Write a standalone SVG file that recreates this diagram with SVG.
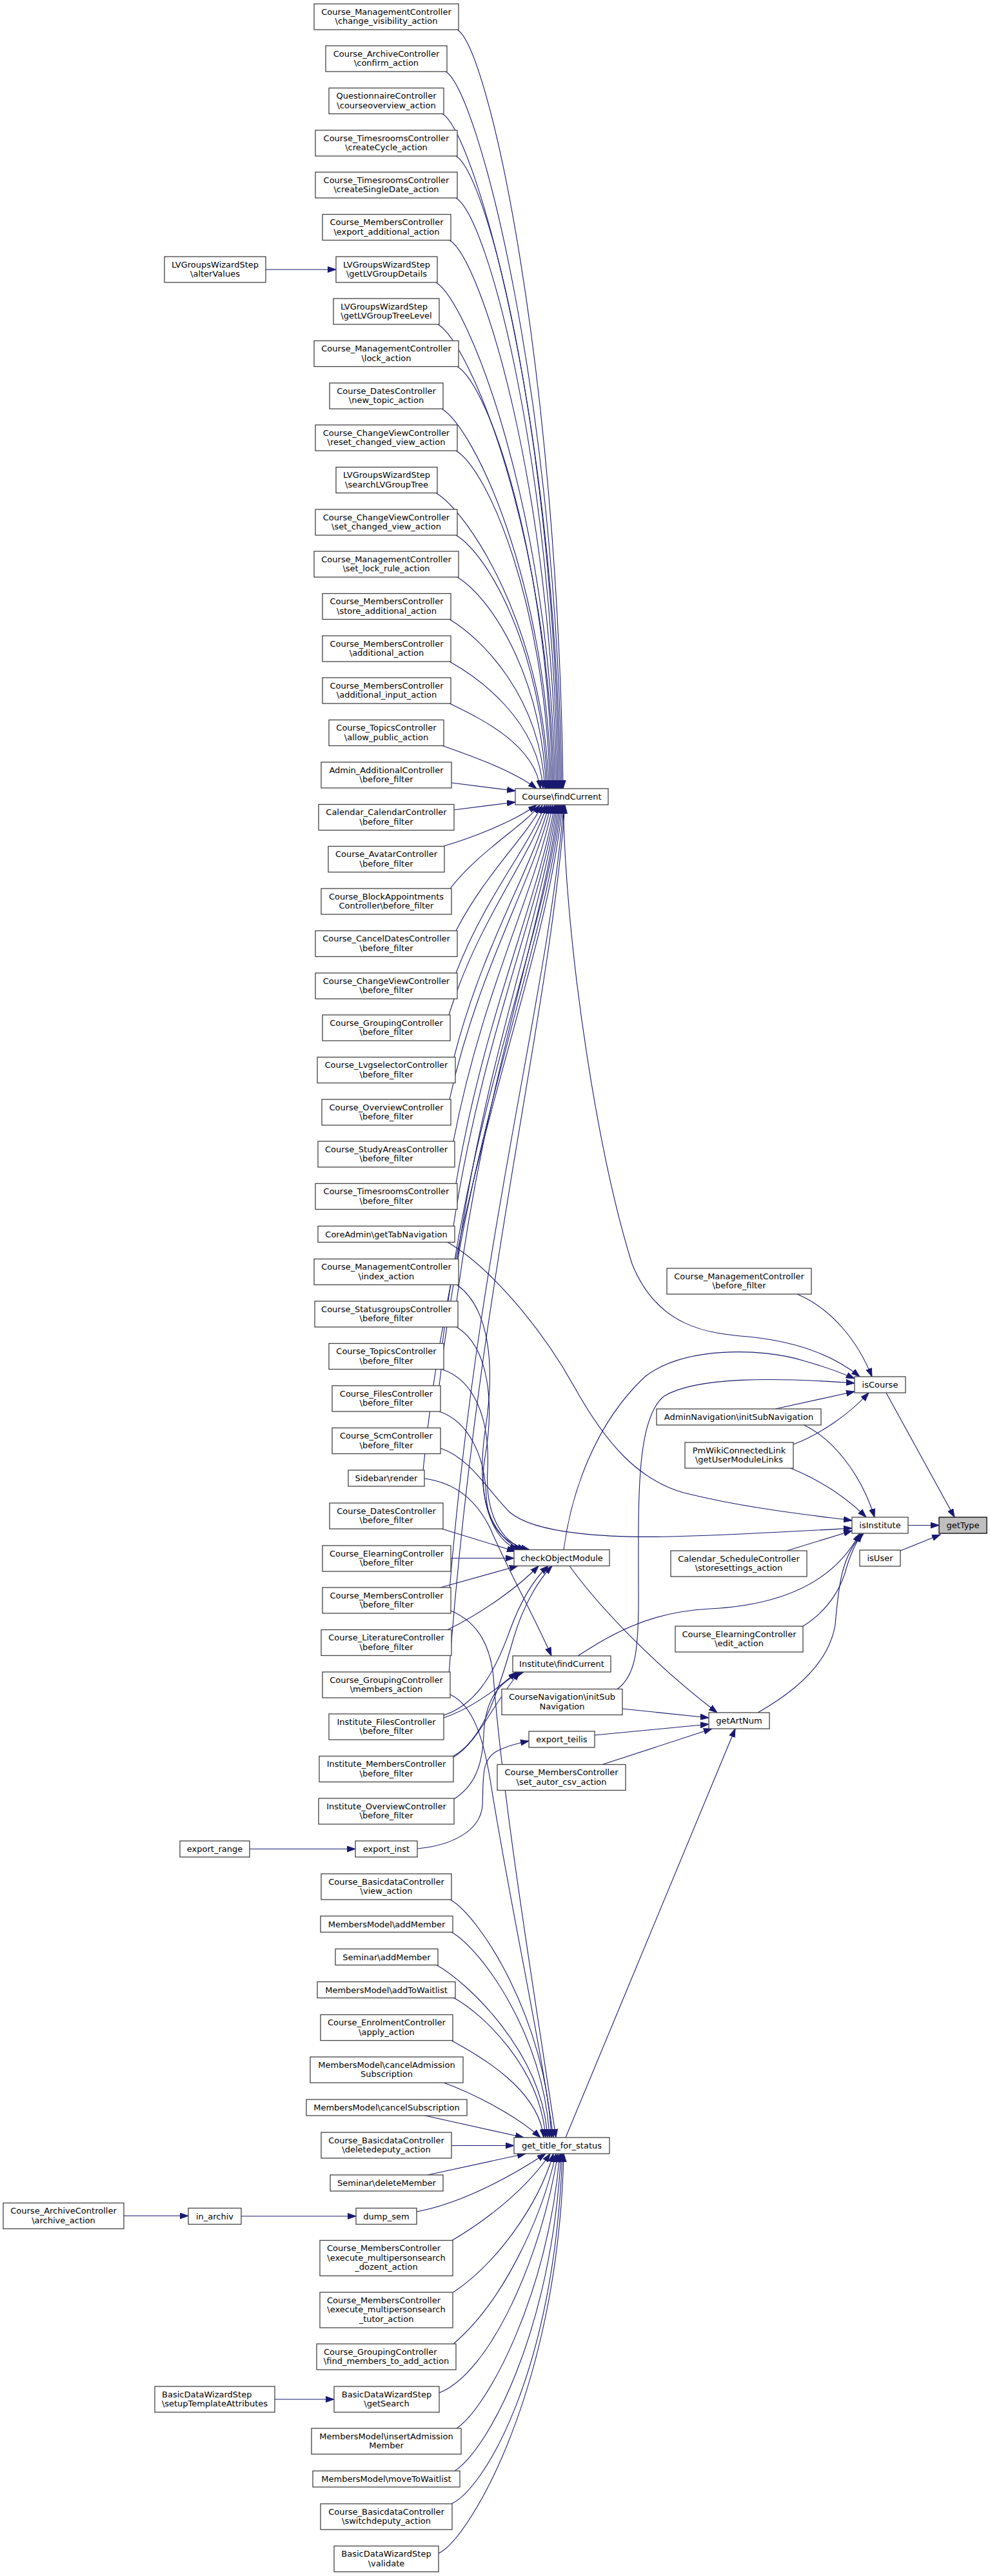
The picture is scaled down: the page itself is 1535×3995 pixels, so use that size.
<svg xmlns="http://www.w3.org/2000/svg" width="1535" height="3995" viewBox="0 0 1535 3995">
<defs>
<style>
.node rect{fill:#ffffff;stroke:#444444;stroke-width:1.3}
.node text{font-family:"DejaVu Sans","Liberation Sans",sans-serif;font-size:13px;fill:#000000;text-anchor:middle}
.node text.l{text-anchor:start}
.root rect{fill:#bfbfbf;stroke:#000000}
.edge{fill:none;stroke:#191970;stroke-width:1.1;marker-end:url(#arrow)}
</style>
<marker id="arrow" markerUnits="userSpaceOnUse" markerWidth="14" markerHeight="10" refX="13" refY="5" orient="auto">
<path d="M0,0.5 L13,5 L0,9.5 Z" fill="#191970" stroke="#191970" stroke-width="1"/>
</marker>
</defs>
<rect x="0" y="0" width="1535" height="3995" fill="#ffffff"/>
<g id="connectors">
<path class="edge" d="M709,46 C759,76 865,576 873,1223"/>
<path class="edge" d="M691,111 C741,141 863,611 871,1223"/>
<path class="edge" d="M686,176.5 C736,206.5 861,647 869,1223"/>
<path class="edge" d="M707,242 C757,272 859,683 867,1223"/>
<path class="edge" d="M707,307 C757,337 857,719 865,1223"/>
<path class="edge" d="M697,372.5 C747,402.5 855,755 863,1223"/>
<path class="edge" d="M676,438 C726,468 853,791 861,1223"/>
<path class="edge" d="M679,503 C729,533 851,827 859,1223"/>
<path class="edge" d="M709,568.5 C759,598.5 849,863 857,1223"/>
<path class="edge" d="M685,634 C735,664 847,899 855,1223"/>
<path class="edge" d="M707,699 C757,729 845,935 853,1223"/>
<path class="edge" d="M676,764.5 C726,794.5 843,971 851,1223"/>
<path class="edge" d="M707,830 C757,860 841,1007 849,1223"/>
<path class="edge" d="M709,895 C759,925 839,1043 847,1223"/>
<path class="edge" d="M697,960.5 C747,990.5 837,1079 845,1223"/>
<path class="edge" d="M697,1026 C740,1050 834,1115 842,1223"/>
<path class="edge" d="M697,1091 C735,1110 828,1150 838,1223"/>
<path class="edge" d="M686,1156.5 C730,1172 795,1195 832,1223"/>
<path class="edge" d="M700,1214 L799,1226.5"/>
<path class="edge" d="M704,1256 L799,1244"/>
<path class="edge" d="M412,418 L521,418"/>
<path class="edge" d="M687,1312.5 C730,1300 795,1275 832,1248.5"/>
<path class="edge" d="M698,1378 C743,1319.7 812,1280.9 837,1248.5"/>
<path class="edge" d="M707,1443.5 C752,1355.8 816,1297.3 841,1248.5"/>
<path class="edge" d="M707,1509 C752,1391.8 820,1313.6 845,1248.5"/>
<path class="edge" d="M696,1574 C741,1427.5 823,1329.9 848,1248.5"/>
<path class="edge" d="M704,1639.5 C749,1463.6 826,1346.3 851,1248.5"/>
<path class="edge" d="M697,1705 C742,1499.6 829,1362.6 854,1248.5"/>
<path class="edge" d="M703,1770 C748,1535.3 832,1378.9 857,1248.5"/>
<path class="edge" d="M707,1835.5 C752,1571.4 835,1395.3 860,1248.5"/>
<path class="edge" d="M703,1901.5 C748,1607.7 837,1411.8 862,1248.5"/>
<path class="edge" d="M709,1952.5 C754,1635.7 839,1424.5 864,1248.5"/>
<path class="edge" d="M708,2018 C753,1671.7 841,1440.9 866,1248.5"/>
<path class="edge" d="M686,2083.5 C731,1707.8 843,1457.3 868,1248.5"/>
<path class="edge" d="M681,2149 C726,1743.8 845,1473.6 870,1248.5"/>
<path class="edge" d="M656,2280 C701,1815.8 847,1506.4 872,1248.5"/>
<path class="edge" d="M697,2466 C742,1918.1 849,1552.9 874,1248.5"/>
<path class="edge" d="M696,2597 C741,1990.2 851,1585.6 876,1248.5"/>
<path class="edge" d="M873,1248.5 C880,1500 930,1800 980,1960 C1020,2060 1100,2068 1160,2073 C1230,2080 1290,2100 1333,2135"/>
<path class="edge" d="M1236,2007 C1290,2030 1330,2080 1352,2135"/>
<path class="edge" d="M874,2403.5 C885,2320 920,2210 1000,2135 C1060,2088 1180,2090 1245,2110 C1280,2120 1300,2127 1325,2138"/>
<path class="edge" d="M957,2619.5 C985,2600 990,2560 990,2480 C990,2330 985,2200 1030,2165 C1080,2135 1200,2136 1325,2145"/>
<path class="edge" d="M1202,2185 L1325,2158"/>
<path class="edge" d="M1230,2240 C1270,2225 1315,2195 1347,2160"/>
<path class="edge" d="M1246,2210 C1290,2230 1335,2285 1356,2353"/>
<path class="edge" d="M1226,2277 C1270,2295 1310,2320 1343,2353"/>
<path class="edge" d="M694,1926.5 C760,1965 840,2060 890,2150 C940,2240 990,2295 1060,2315 C1160,2340 1260,2350 1321,2358"/>
<path class="edge" d="M683,2246 C730,2262 755,2310 790,2345 C830,2380 950,2385 1040,2383 C1150,2380 1250,2374 1321,2370"/>
<path class="edge" d="M1220,2405 L1321,2374"/>
<path class="edge" d="M896,2568 C940,2540 1000,2500 1100,2495 C1200,2490 1290,2460 1333,2378"/>
<path class="edge" d="M1245,2522 C1280,2500 1300,2470 1310,2440 C1318,2410 1328,2392 1336,2378"/>
<path class="edge" d="M1175,2656 C1230,2625 1285,2580 1295,2520 C1300,2460 1305,2410 1339,2378"/>
<path class="edge" d="M1374,2160 L1480,2353"/>
<path class="edge" d="M1408,2365.5 L1456,2365.5"/>
<path class="edge" d="M1396,2405 L1458,2380"/>
<path class="edge" d="M709,1993 C760,2030 768,2120 752,2220 C738,2320 760,2385 803,2403.5"/>
<path class="edge" d="M708,2058 C760,2090 766,2180 752,2260 C740,2330 768,2388 809,2403.5"/>
<path class="edge" d="M686,2124 C735,2140 760,2200 756,2280 C752,2345 775,2390 815,2403.5"/>
<path class="edge" d="M681,2189 C728,2205 752,2260 754,2320 C756,2370 785,2395 821,2403.5"/>
<path class="edge" d="M685,2371 L799,2406"/>
<path class="edge" d="M699,2416.5 L797,2416.5"/>
<path class="edge" d="M683,2462 L803,2428.5"/>
<path class="edge" d="M694,2527.5 C750,2500 805,2460 835,2428.5"/>
<path class="edge" d="M688,2660 C735,2645 765,2600 790,2530 C810,2475 832,2445 850,2428.5"/>
<path class="edge" d="M703,2723.5 C745,2700 768,2640 795,2545 C812,2485 838,2447 856,2428.5"/>
<path class="edge" d="M658,2293 C710,2300 740,2330 760,2370 C790,2440 830,2510 855,2568"/>
<path class="edge" d="M688,2664 C730,2650 770,2620 801,2593"/>
<path class="edge" d="M703,2725 C740,2705 765,2640 806,2593"/>
<path class="edge" d="M704,2790 C735,2770 748,2740 750,2690 C752,2640 770,2608 812,2593"/>
<path class="edge" d="M883,2428.5 C920,2480 1000,2570 1112,2656"/>
<path class="edge" d="M965,2650 L1099,2664"/>
<path class="edge" d="M922,2691 L1099,2674"/>
<path class="edge" d="M934,2736.5 L1104,2681"/>
<path class="edge" d="M877,3315 L1140,2681"/>
<path class="edge" d="M387,2867.5 L551,2867.5"/>
<path class="edge" d="M647,2867 C700,2862 745,2840 748,2800 C750,2760 745,2730 770,2716 C785,2708 800,2704 820,2700"/>
<path class="edge" d="M699,2498 C740,2515 760,2550 765,2600 C780,2800 830,3100 862,3315"/>
<path class="edge" d="M698,2628 C735,2645 750,2700 760,2760 C790,2950 835,3150 858,3315"/>
<path class="edge" d="M698,2946 C743,2971 847,3130.5 855,3315"/>
<path class="edge" d="M700,2996.5 C745,3021.5 844,3156 852,3315"/>
<path class="edge" d="M677,3047.5 C722,3072.5 841,3181 849,3315"/>
<path class="edge" d="M704,3098.5 C749,3123.5 838,3207 846,3315"/>
<path class="edge" d="M700,3164.5 C745,3189.5 835,3240 843,3315"/>
<path class="edge" d="M688,3230 C730,3245 800,3280 838,3315"/>
<path class="edge" d="M659,3281 L812,3315"/>
<path class="edge" d="M700,3327.5 L797,3327.5"/>
<path class="edge" d="M663,3373 L815,3340"/>
<path class="edge" d="M646,3430 C700,3420 770,3390 846,3340"/>
<path class="edge" d="M701,3474.5 C760,3440 820,3390 853,3340"/>
<path class="edge" d="M703,3555 C770,3510 835,3420 858,3340"/>
<path class="edge" d="M703,3635 C780,3570 840,3440 862,3340"/>
<path class="edge" d="M681,3711 C760,3680 840,3500 865,3340"/>
<path class="edge" d="M708,3766 C755,3735 850,3560 868,3340"/>
<path class="edge" d="M705,3832 C755,3800 855,3620 870,3340"/>
<path class="edge" d="M700,3883 C750,3860 860,3680 872,3340"/>
<path class="edge" d="M680,3960 C730,3935 866,3700 874,3340"/>
<path class="edge" d="M374,3437 L552,3437"/>
<path class="edge" d="M192,3436.5 L292,3436.5"/>
<path class="edge" d="M426,3721 L518,3721"/>
</g>
<g id="n1" class="node"><rect x="487" y="6" width="224" height="40"/><text x="599" y="22.5">Course_ManagementController</text><text x="599" y="37">\change_visibility_action</text></g>
<g id="n2" class="node"><rect x="505" y="71" width="188" height="40"/><text x="599" y="87.5">Course_ArchiveController</text><text x="599" y="102">\confirm_action</text></g>
<g id="n3" class="node"><rect x="510" y="136.5" width="178" height="40"/><text x="599" y="153">QuestionnaireController</text><text x="599" y="167.5">\courseoverview_action</text></g>
<g id="n4" class="node"><rect x="489" y="202" width="220" height="40"/><text x="599" y="218.5">Course_TimesroomsController</text><text x="599" y="233">\createCycle_action</text></g>
<g id="n5" class="node"><rect x="489" y="267" width="220" height="40"/><text x="599" y="283.5">Course_TimesroomsController</text><text x="599" y="298">\createSingleDate_action</text></g>
<g id="n6" class="node"><rect x="500" y="332.5" width="199" height="40"/><text x="599.5" y="349">Course_MembersController</text><text x="599.5" y="363.5">\export_additional_action</text></g>
<g id="n7" class="node"><rect x="521" y="398" width="157" height="40"/><text x="599.5" y="414.5">LVGroupsWizardStep</text><text x="599.5" y="429">\getLVGroupDetails</text></g>
<g id="n7a" class="node"><rect x="255" y="398" width="157" height="40"/><text x="333.5" y="414.5">LVGroupsWizardStep</text><text x="333.5" y="429">\alterValues</text></g>
<g id="n8" class="node"><rect x="517" y="463" width="164" height="40"/><text class="l" x="528" y="479.5">LVGroupsWizardStep</text><text x="599" y="494">\getLVGroupTreeLevel</text></g>
<g id="n9" class="node"><rect x="487" y="528.5" width="224" height="40"/><text x="599" y="545">Course_ManagementController</text><text x="599" y="559.5">\lock_action</text></g>
<g id="n10" class="node"><rect x="511" y="594" width="176" height="40"/><text x="599" y="610.5">Course_DatesController</text><text x="599" y="625">\new_topic_action</text></g>
<g id="n11" class="node"><rect x="489" y="659" width="220" height="40"/><text x="599" y="675.5">Course_ChangeViewController</text><text x="599" y="690">\reset_changed_view_action</text></g>
<g id="n12" class="node"><rect x="521" y="724.5" width="157" height="40"/><text x="599.5" y="741">LVGroupsWizardStep</text><text x="599.5" y="755.5">\searchLVGroupTree</text></g>
<g id="n13" class="node"><rect x="489" y="790" width="220" height="40"/><text x="599" y="806.5">Course_ChangeViewController</text><text x="599" y="821">\set_changed_view_action</text></g>
<g id="n14" class="node"><rect x="487" y="855" width="224" height="40"/><text x="599" y="871.5">Course_ManagementController</text><text x="599" y="886">\set_lock_rule_action</text></g>
<g id="n15" class="node"><rect x="500" y="920.5" width="199" height="40"/><text x="599.5" y="937">Course_MembersController</text><text x="599.5" y="951.5">\store_additional_action</text></g>
<g id="n16" class="node"><rect x="500" y="986" width="199" height="40"/><text x="599.5" y="1002.5">Course_MembersController</text><text x="599.5" y="1017">\additional_action</text></g>
<g id="n17" class="node"><rect x="500" y="1051" width="199" height="40"/><text x="599.5" y="1067.5">Course_MembersController</text><text x="599.5" y="1082">\additional_input_action</text></g>
<g id="n18" class="node"><rect x="510" y="1116.5" width="178" height="40"/><text x="599" y="1133">Course_TopicsController</text><text x="599" y="1147.5">\allow_public_action</text></g>
<g id="n19" class="node"><rect x="498" y="1182" width="202" height="40"/><text x="599" y="1198.5">Admin_AdditionalController</text><text x="599" y="1213">\before_filter</text></g>
<g id="n20" class="node"><rect x="494" y="1247.5" width="210" height="40"/><text x="599" y="1264">Calendar_CalendarController</text><text x="599" y="1278.5">\before_filter</text></g>
<g id="n21" class="node"><rect x="509" y="1312.5" width="180" height="40"/><text x="599" y="1329">Course_AvatarController</text><text x="599" y="1343.5">\before_filter</text></g>
<g id="n22" class="node"><rect x="498" y="1378" width="202" height="40"/><text x="599" y="1394.5">Course_BlockAppointments</text><text x="599" y="1409">Controller\before_filter</text></g>
<g id="n23" class="node"><rect x="489" y="1443.5" width="220" height="40"/><text x="599" y="1460">Course_CancelDatesController</text><text x="599" y="1474.5">\before_filter</text></g>
<g id="n24" class="node"><rect x="489" y="1509" width="220" height="40"/><text x="599" y="1525.5">Course_ChangeViewController</text><text x="599" y="1540">\before_filter</text></g>
<g id="n25" class="node"><rect x="500" y="1574" width="198" height="40"/><text x="599" y="1590.5">Course_GroupingController</text><text x="599" y="1605">\before_filter</text></g>
<g id="n26" class="node"><rect x="492" y="1639.5" width="214" height="40"/><text x="599" y="1656">Course_LvgselectorController</text><text x="599" y="1670.5">\before_filter</text></g>
<g id="n27" class="node"><rect x="499" y="1705" width="200" height="40"/><text x="599" y="1721.5">Course_OverviewController</text><text x="599" y="1736">\before_filter</text></g>
<g id="n28" class="node"><rect x="493" y="1770" width="212" height="40"/><text x="599" y="1786.5">Course_StudyAreasController</text><text x="599" y="1801">\before_filter</text></g>
<g id="n29" class="node"><rect x="489" y="1835.5" width="220" height="40"/><text x="599" y="1852">Course_TimesroomsController</text><text x="599" y="1866.5">\before_filter</text></g>
<g id="n30" class="node"><rect x="493" y="1901.5" width="212" height="25"/><text x="599" y="1918.5">CoreAdmin\getTabNavigation</text></g>
<g id="n31" class="node"><rect x="487" y="1952.5" width="224" height="40"/><text x="599" y="1969">Course_ManagementController</text><text x="599" y="1983.5">\index_action</text></g>
<g id="n32" class="node"><rect x="488" y="2018" width="222" height="40"/><text x="599" y="2034.5">Course_StatusgroupsController</text><text x="599" y="2049">\before_filter</text></g>
<g id="n33" class="node"><rect x="510" y="2083.5" width="178" height="40"/><text x="599" y="2100">Course_TopicsController</text><text x="599" y="2114.5">\before_filter</text></g>
<g id="n34" class="node"><rect x="515" y="2149" width="168" height="40"/><text x="599" y="2165.5">Course_FilesController</text><text x="599" y="2180">\before_filter</text></g>
<g id="n35" class="node"><rect x="515" y="2214.5" width="168" height="40"/><text x="599" y="2231">Course_ScmController</text><text x="599" y="2245.5">\before_filter</text></g>
<g id="n36" class="node"><rect x="540" y="2280" width="118" height="25"/><text x="599" y="2297">Sidebar\render</text></g>
<g id="n37" class="node"><rect x="511" y="2331" width="176" height="40"/><text x="599" y="2347.5">Course_DatesController</text><text x="599" y="2362">\before_filter</text></g>
<g id="n38" class="node"><rect x="500" y="2397" width="199" height="40"/><text x="599.5" y="2413.5">Course_ElearningController</text><text x="599.5" y="2428">\before_filter</text></g>
<g id="n39" class="node"><rect x="500" y="2462" width="199" height="40"/><text x="599.5" y="2478.5">Course_MembersController</text><text x="599.5" y="2493">\before_filter</text></g>
<g id="n40" class="node"><rect x="498" y="2527.5" width="202" height="40"/><text x="599" y="2544">Course_LiteratureController</text><text x="599" y="2558.5">\before_filter</text></g>
<g id="n41" class="node"><rect x="500" y="2593" width="198" height="40"/><text x="599" y="2609.5">Course_GroupingController</text><text x="599" y="2624">\members_action</text></g>
<g id="n42" class="node"><rect x="510" y="2658" width="178" height="40"/><text x="599" y="2674.5">Institute_FilesController</text><text x="599" y="2689">\before_filter</text></g>
<g id="n43" class="node"><rect x="495" y="2723.5" width="208" height="40"/><text x="599" y="2740">Institute_MembersController</text><text x="599" y="2754.5">\before_filter</text></g>
<g id="n44" class="node"><rect x="494" y="2789" width="210" height="40"/><text x="599" y="2805.5">Institute_OverviewController</text><text x="599" y="2820">\before_filter</text></g>
<g id="n45" class="node"><rect x="551" y="2855" width="96" height="25"/><text x="599" y="2872">export_inst</text></g>
<g id="n45a" class="node"><rect x="279" y="2855" width="108" height="25"/><text x="333" y="2872">export_range</text></g>
<g id="n46" class="node"><rect x="498" y="2906" width="202" height="40"/><text x="599" y="2922.5">Course_BasicdataController</text><text x="599" y="2937">\view_action</text></g>
<g id="n47" class="node"><rect x="497" y="2971.5" width="205" height="25"/><text x="599.5" y="2988.5">MembersModel\addMember</text></g>
<g id="n48" class="node"><rect x="520" y="3022.5" width="159" height="25"/><text x="599.5" y="3039.5">Seminar\addMember</text></g>
<g id="n49" class="node"><rect x="492" y="3073.5" width="214" height="25"/><text x="599" y="3090.5">MembersModel\addToWaitlist</text></g>
<g id="n50" class="node"><rect x="497" y="3124.5" width="205" height="40"/><text x="599.5" y="3141">Course_EnrolmentController</text><text x="599.5" y="3155.5">\apply_action</text></g>
<g id="n51" class="node"><rect x="481" y="3190" width="237" height="40"/><text x="599.5" y="3206.5">MembersModel\cancelAdmission</text><text x="599.5" y="3221">Subscription</text></g>
<g id="n52" class="node"><rect x="475" y="3256" width="249" height="25"/><text x="599.5" y="3273">MembersModel\cancelSubscription</text></g>
<g id="n53" class="node"><rect x="498" y="3307" width="202" height="40"/><text x="599" y="3323.5">Course_BasicdataController</text><text x="599" y="3338">\deletedeputy_action</text></g>
<g id="n54" class="node"><rect x="512" y="3373" width="175" height="25"/><text x="599.5" y="3390">Seminar\deleteMember</text></g>
<g id="n55" class="node"><rect x="552" y="3424.5" width="94" height="25"/><text x="599" y="3441.5">dump_sem</text></g>
<g id="n55a" class="node"><rect x="292" y="3424.5" width="82" height="25"/><text x="333" y="3441.5">in_archiv</text></g>
<g id="n55b" class="node"><rect x="5" y="3416.5" width="187" height="40"/><text x="98.5" y="3433">Course_ArchiveController</text><text x="98.5" y="3447.5">\archive_action</text></g>
<g id="n56" class="node"><rect x="496" y="3474.5" width="206" height="55"/><text class="l" x="507" y="3491">Course_MembersController</text><text x="599" y="3505.5">\execute_multipersonsearch</text><text x="599" y="3520">_dozent_action</text></g>
<g id="n57" class="node"><rect x="496" y="3555" width="206" height="55"/><text class="l" x="507" y="3571.5">Course_MembersController</text><text x="599" y="3586">\execute_multipersonsearch</text><text x="599" y="3600.5">_tutor_action</text></g>
<g id="n58" class="node"><rect x="491" y="3635" width="216" height="40"/><text class="l" x="502" y="3651.5">Course_GroupingController</text><text x="599" y="3666">\find_members_to_add_action</text></g>
<g id="n59" class="node"><rect x="518" y="3701" width="163" height="40"/><text x="599.5" y="3717.5">BasicDataWizardStep</text><text x="599.5" y="3732">\getSearch</text></g>
<g id="n59a" class="node"><rect x="240" y="3701" width="186" height="40"/><text class="l" x="251" y="3717.5">BasicDataWizardStep</text><text x="333" y="3732">\setupTemplateAttributes</text></g>
<g id="n60" class="node"><rect x="483" y="3766" width="232" height="40"/><text x="599" y="3782.5">MembersModel\insertAdmission</text><text x="599" y="3797">Member</text></g>
<g id="n61" class="node"><rect x="485" y="3832" width="228" height="25"/><text x="599" y="3849">MembersModel\moveToWaitlist</text></g>
<g id="n62" class="node"><rect x="497" y="3883" width="204" height="40"/><text x="599" y="3899.5">Course_BasicdataController</text><text x="599" y="3914">\switchdeputy_action</text></g>
<g id="n63" class="node"><rect x="518" y="3948.5" width="162" height="40"/><text x="599" y="3965">BasicDataWizardStep</text><text x="599" y="3979.5">\validate</text></g>
<g id="courseFindCurrent" class="node"><rect x="799" y="1223" width="144" height="25"/><text x="871" y="1240">Course\findCurrent</text></g>
<g id="checkObjectModule" class="node"><rect x="797" y="2403.5" width="148" height="25"/><text x="871" y="2420.5">checkObjectModule</text></g>
<g id="instituteFindCurrent" class="node"><rect x="795" y="2568" width="152" height="25"/><text x="871" y="2585">Institute\findCurrent</text></g>
<g id="courseNavigation" class="node"><rect x="778" y="2619.5" width="187" height="40"/><text x="871.5" y="2636">CourseNavigation\initSub</text><text x="871.5" y="2650.5">Navigation</text></g>
<g id="exportTeilis" class="node"><rect x="820" y="2685" width="102" height="25"/><text x="871" y="2702">export_teilis</text></g>
<g id="setAutorCsv" class="node"><rect x="771" y="2736.5" width="199" height="40"/><text x="870.5" y="2753">Course_MembersController</text><text x="870.5" y="2767.5">\set_autor_csv_action</text></g>
<g id="getTitleForStatus" class="node"><rect x="797" y="3315" width="148" height="25"/><text x="871" y="3332">get_title_for_status</text></g>
<g id="mgmtBeforeFilter" class="node"><rect x="1034" y="1967" width="224" height="40"/><text x="1146" y="1983.5">Course_ManagementController</text><text x="1146" y="1998">\before_filter</text></g>
<g id="adminNavigation" class="node"><rect x="1018" y="2185" width="255" height="25"/><text x="1145.5" y="2202">AdminNavigation\initSubNavigation</text></g>
<g id="pmWiki" class="node"><rect x="1062" y="2237" width="168" height="40"/><text x="1146" y="2253.5">PmWikiConnectedLink</text><text x="1146" y="2268">\getUserModuleLinks</text></g>
<g id="calendarSchedule" class="node"><rect x="1040" y="2405" width="211" height="40"/><text x="1145.5" y="2421.5">Calendar_ScheduleController</text><text x="1145.5" y="2436">\storesettings_action</text></g>
<g id="elearningEdit" class="node"><rect x="1047" y="2522" width="198" height="40"/><text x="1146" y="2538.5">Course_ElearningController</text><text x="1146" y="2553">\edit_action</text></g>
<g id="getArtNum" class="node"><rect x="1099" y="2656" width="94" height="25"/><text x="1146" y="2673">getArtNum</text></g>
<g id="isCourse" class="node"><rect x="1325" y="2135" width="79" height="25"/><text x="1364.5" y="2152">isCourse</text></g>
<g id="isInstitute" class="node"><rect x="1321" y="2353" width="87" height="25"/><text x="1364.5" y="2370">isInstitute</text></g>
<g id="isUser" class="node"><rect x="1333" y="2404" width="63" height="25"/><text x="1364.5" y="2421">isUser</text></g>
<g id="getType" class="node root"><rect x="1456" y="2353" width="74" height="25"/><text x="1493" y="2370">getType</text></g>
</svg>
